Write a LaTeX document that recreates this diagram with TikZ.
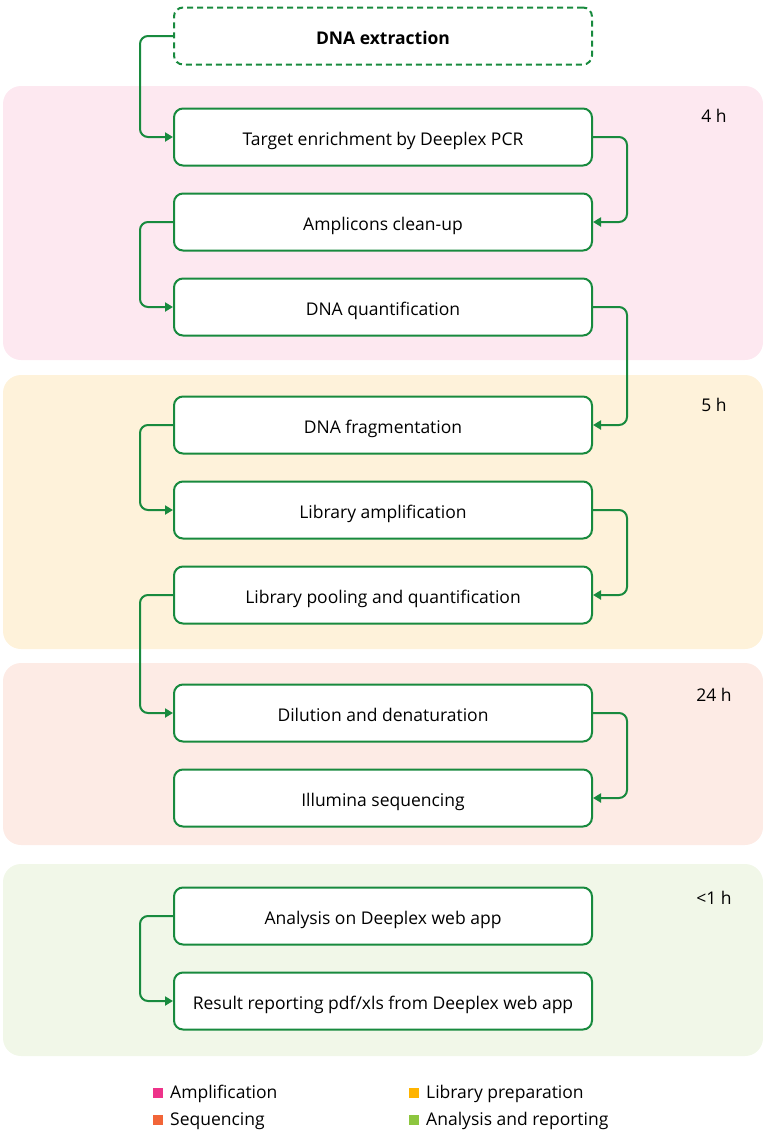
\documentclass[tikz,border=0pt]{standalone}
\usepackage{fontspec}
\setmainfont{Open Sans}
\usetikzlibrary{arrows.meta}
\definecolor{ln}{RGB}{24, 138, 62}
\definecolor{bpink}{RGB}{253, 232, 240}
\definecolor{byell}{RGB}{254, 242, 218}
\definecolor{bsalm}{RGB}{253, 235, 229}
\definecolor{bgrn}{RGB}{241, 247, 232}
\definecolor{kpink}{RGB}{238, 51, 138}
\definecolor{kyell}{RGB}{255, 180, 0}
\definecolor{ksalm}{RGB}{242, 101, 56}
\definecolor{kgrn}{RGB}{141, 198, 63}

\begin{document}
\begin{tikzpicture}[x=1pt, y=-1pt,
  box/.style={draw=ln, line width=2pt, rounded corners=9pt, fill=white, minimum width=418pt, minimum height=57pt, inner sep=0pt, text height=16pt, text depth=0pt, font=\fontsize{17.5}{20}\selectfont},
  band/.style={rounded corners=18pt},
  flow/.style={draw=ln, line width=2pt, rounded corners=8pt, -{Triangle[length=8pt, width=9pt]}},
  hrs/.style={font=\fontsize{17.5}{20}\selectfont},
  key/.style={minimum size=10pt, inner sep=0pt},
  keytext/.style={anchor=west, inner sep=0pt, font=\fontsize{17.5}{20}\selectfont}]
\useasboundingbox (0,0) rectangle (763,1133);
\fill [bpink, band] (3,86) rectangle (763,360);
\fill [byell, band] (3,375) rectangle (763,649);
\fill [bsalm, band] (3,663) rectangle (763,845);
\fill [bgrn, band] (3,864) rectangle (763,1056);
\node (1) [box, dash pattern=on 6pt off 4pt, fill=none, font=\fontsize{17.5}{20}\selectfont\bfseries] at (383, 36) {DNA extraction};
\node (2) [box] at (383, 137) {Target enrichment by Deeplex PCR};
\node (3) [box] at (383, 222) {Amplicons clean-up};
\node (4) [box] at (383, 307) {DNA quantification};
\node (5) [box] at (383, 425) {DNA fragmentation};
\node (6) [box] at (383, 510) {Library amplification};
\node (7) [box] at (383, 595) {Library pooling and quantification};
\node (8) [box] at (383, 713) {Dilution and denaturation};
\node (9) [box] at (383, 798) {Illumina sequencing};
\node (10) [box] at (383, 916) {Analysis on Deeplex web app};
\node (11) [box] at (383, 1001) {Result reporting pdf/xls from Deeplex web app};
\draw [flow] (1.west) -- ++(-33,0) |- (2.west);
\draw [flow] (2.east) -- ++(34,0) |- (3.east);
\draw [flow] (3.west) -- ++(-33,0) |- (4.west);
\draw [flow] (4.east) -- ++(34,0) |- (5.east);
\draw [flow] (5.west) -- ++(-33,0) |- (6.west);
\draw [flow] (6.east) -- ++(34,0) |- (7.east);
\draw [flow] (7.west) -- ++(-33,0) |- (8.west);
\draw [flow] (8.east) -- ++(34,0) |- (9.east);
\draw [flow] (10.west) -- ++(-33,0) |- (11.west);
\node (h1) [hrs] at (714, 116) {4 h};
\node (h2) [hrs] at (714, 405) {5 h};
\node (h3) [hrs] at (714, 695) {24 h};
\node (h4) [hrs] at (714, 898) {<1 h};
\node (k1) [key, fill=kpink] at (158, 1093) {};
\node (k2) [key, fill=ksalm] at (158, 1120) {};
\node (k3) [key, fill=kyell] at (414, 1093) {};
\node (k4) [key, fill=kgrn] at (414, 1120) {};
\node (t1) [keytext] at (170, 1094) {Amplification};
\node (t2) [keytext] at (170, 1121) {Sequencing};
\node (t3) [keytext] at (426, 1094) {Library preparation};
\node (t4) [keytext] at (426, 1121) {Analysis and reporting};
\end{tikzpicture}
\end{document}
